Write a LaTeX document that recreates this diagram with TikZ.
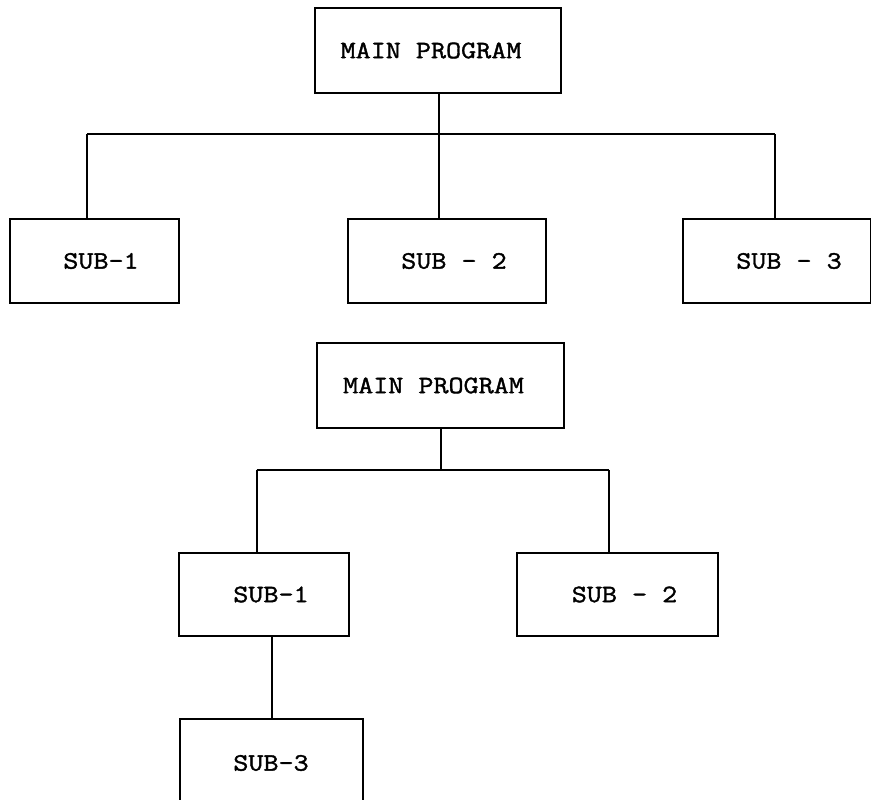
\documentclass[tikz,border=0pt]{standalone}
\usepackage{fontspec}
\newfontfamily\twfont{Latin Modern Mono}[FakeStretch=1.17,FakeBold=1.5]
\begin{document}
\begin{tikzpicture}[x=1pt,y=-1pt,
  box/.style={draw,line width=2pt,rectangle,inner sep=0pt,font=\twfont\fontsize{25}{25}\selectfont},
  conn/.style={line width=2pt}]
\clip (0,0) rectangle (871,800);
\useasboundingbox (0,0) rectangle (871,800);
% top tree
\node[box,minimum width=246pt,minimum height=85pt] (m1) at (438,50.5) {MAIN PROGRAM\hspace*{14pt}};
\node[box,minimum width=169pt,minimum height=84pt] (s1) at (94.5,261) {\hspace*{13pt}SUB-1};
\node[box,minimum width=198pt,minimum height=84pt] (s2) at (447,261) {\hspace*{14pt}SUB - 2};
\node[box,minimum width=188pt,minimum height=84pt] (s3) at (777,261) {\hspace*{24pt}SUB - 3};
\coordinate (c1) at (439,134);
\coordinate (l1) at (87,134);
\coordinate (r1) at (775,134);
\draw[conn] (m1.south -| c1) -- (s2.north -| c1);
\draw[conn] (l1) -- (r1);
\draw[conn] (l1) -- (s1.north -| l1);
\draw[conn] (r1) -- (s3.north -| r1);
% bottom tree
\node[box,minimum width=247pt,minimum height=85pt] (m2) at (440.5,385.5) {MAIN PROGRAM\hspace*{14pt}};
\node[box,minimum width=170pt,minimum height=83pt] (t1) at (264,594.5) {\hspace*{14pt}SUB-1};
\node[box,minimum width=201pt,minimum height=83pt] (t2) at (617,594.5) {\hspace*{15pt}SUB - 2};
\node[box,minimum width=183pt,minimum height=102pt] (t3) at (271.5,770) {};
\node[font=\twfont\fontsize{25}{25}\selectfont,inner sep=0pt] (t3lab) at (271,763) {SUB-3};
\coordinate (c2) at (441,470);
\coordinate (l2) at (256.5,470);
\coordinate (r2) at (609,470);
\coordinate (v2) at (272,0);
\draw[conn] (m2.south -| c2) -- (c2);
\draw[conn] (l2) -- (r2);
\draw[conn] (l2) -- (t1.north -| l2);
\draw[conn] (r2) -- (t2.north -| r2);
\draw[conn] (t1.south -| v2) -- (t3.north -| v2);
\end{tikzpicture}
\end{document}
